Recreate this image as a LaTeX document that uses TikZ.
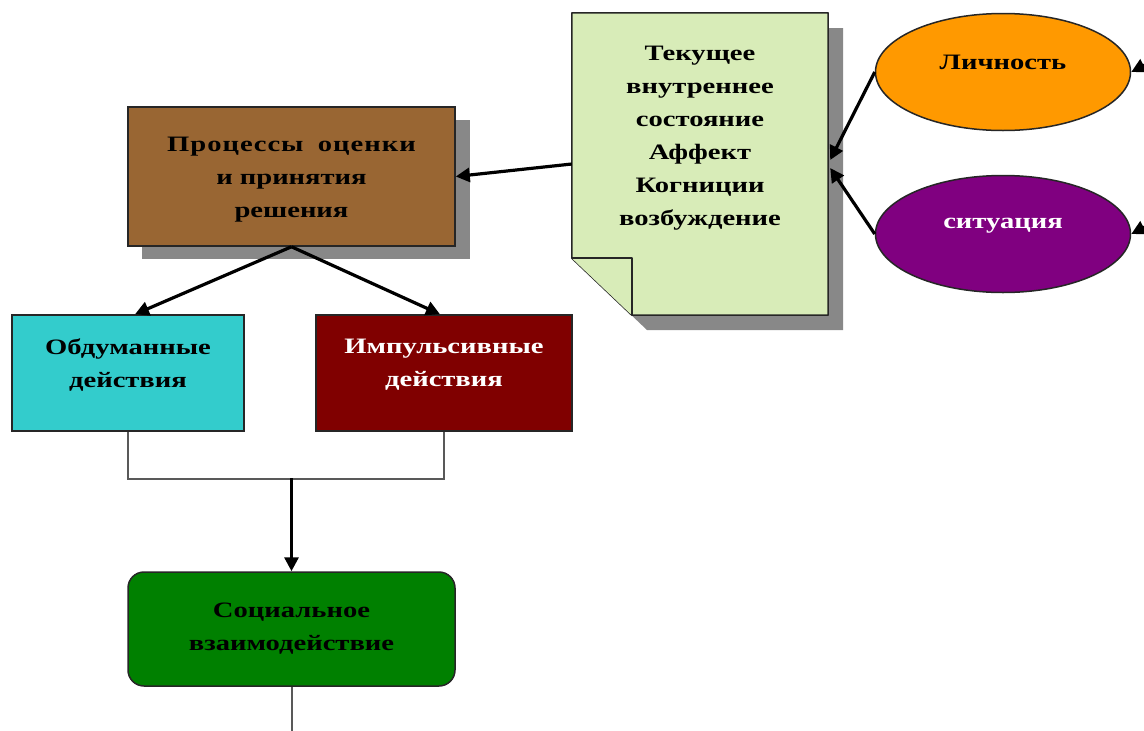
\documentclass[tikz,border=0pt]{standalone}
\usepackage{fontspec}
\newfontfamily\df[FakeStretch=1.3]{Liberation Serif}
\usetikzlibrary{shapes.geometric,arrows.meta}
\definecolor{cbrown}{RGB}{153,102,51}
\definecolor{cnote}{RGB}{216,236,184}
\definecolor{corange}{RGB}{255,153,0}
\definecolor{cpurple}{RGB}{128,0,128}
\definecolor{ccyan}{RGB}{51,204,204}
\definecolor{cmaroon}{RGB}{128,0,0}
\definecolor{cgreen}{RGB}{0,128,0}
\definecolor{cshadow}{RGB}{136,136,136}
\begin{document}
\begin{tikzpicture}[x=1pt,y=-1pt,
  txt/.style={font=\df\bfseries\fontsize{22}{33}\selectfont, align=center, inner sep=0pt},
  box/.style={draw=black!85, line width=1.5pt, inner sep=0pt, align=center, font=\df\bfseries\fontsize{22}{33}\selectfont},
  arr/.style={line width=3.2pt, -{Triangle[length=14pt,width=14pt]}},
  thinline/.style={draw=black!65, line width=2pt}]
\useasboundingbox (0,0) rectangle (1144,731);
\fill[white] (0,0) rectangle (1144,731);

% shadows
\fill[cshadow] (142,120) rectangle (470,259);
\fill[cshadow] (587,28) -- (843,28) -- (843,330) -- (647,330) -- (587,273) -- cycle;

% brown process box
\node[box, fill=cbrown, minimum width=327pt, minimum height=139pt] (proc) at (291.5,176.5) {};
\node[txt] (proctext) at (291.5,180) {П\kern1ptр\kern1ptо\kern1ptц\kern1ptе\kern1ptс\kern1ptс\kern1ptы\ \ о\kern1ptц\kern1ptе\kern1ptн\kern1ptк\kern1ptи\\и принятия\\решения};

% note (document shape)
\node[minimum width=256pt, minimum height=302pt, inner sep=0pt] (note) at (700,164) {};
\filldraw[fill=cnote, draw=black!85, line width=1.5pt, line join=round]
  (note.north west) -- (note.north east) -- (note.south east) -- ([xshift=60pt]note.south west)
  -- ([yshift=57pt]note.south west) -- cycle;
\filldraw[fill=cnote, draw=black!85, line width=1.5pt, line join=round]
  ([yshift=57pt]note.south west) -- ([xshift=60pt,yshift=57pt]note.south west) -- ([xshift=60pt]note.south west);
\node[txt] (notetext) at (700,138) {Текущее\\внутреннее\\состояние\\Аффект\\Когниции\\возбуждение};

% ellipses
\node[ellipse, draw=black!85, line width=1.5pt, fill=corange, minimum width=255pt, minimum height=117pt, inner sep=0pt] (lich) at (1003,72) {};
\node[txt] (lichtext) at (1003,62) {Личность};
\node[ellipse, draw=black!85, line width=1.5pt, fill=cpurple, minimum width=255pt, minimum height=117pt, inner sep=0pt] (sit) at (1003,234) {};
\node[txt, text=white] (sittext) at (1003,226) {ситуация};

% action boxes
\node[box, fill=ccyan, minimum width=232pt, minimum height=116pt] (cyan) at (128,373) {};
\node[txt, text=black] (cyantext) at (128,365) {Обдуманные\\действия};
\node[box, fill=cmaroon, minimum width=256pt, minimum height=116pt] (maroon) at (444,373) {};
\node[txt, text=white] (maroontext) at (444,365) {Импульсивные\\действия};

% social interaction
\node[box, fill=cgreen, rounded corners=16pt, minimum width=327pt, minimum height=114pt] (social) at (291.5,629)
  {Социальное\\взаимодействие};

% coordinates
\coordinate (j) at (291.5,478);
\coordinate (bot) at (291.5,745);
\coordinate (inlich) at (1170,52);
\coordinate (insit) at (1170,214);

% connectors
\draw[arr] (note.west) -- (proc.east);
\draw[arr] (proc.south) -- ([xshift=7pt]cyan.north);
\draw[arr] (proc.south) -- ([xshift=-4pt]maroon.north);
\draw[arr] (lich.west) -- ([yshift=4pt,xshift=2pt]note.east);
\draw[arr] (sit.west) -- ([yshift=-4pt,xshift=2pt]note.east);
\draw[arr] (inlich) -- (lich.east);
\draw[arr] (insit) -- (sit.east);
\draw[thinline] (cyan.south) -- ++(0,47) -| (maroon.south);
\draw[arr] (j) -- (social.north);
\draw[thinline] (social.south) -- (bot);
\end{tikzpicture}
\end{document}
